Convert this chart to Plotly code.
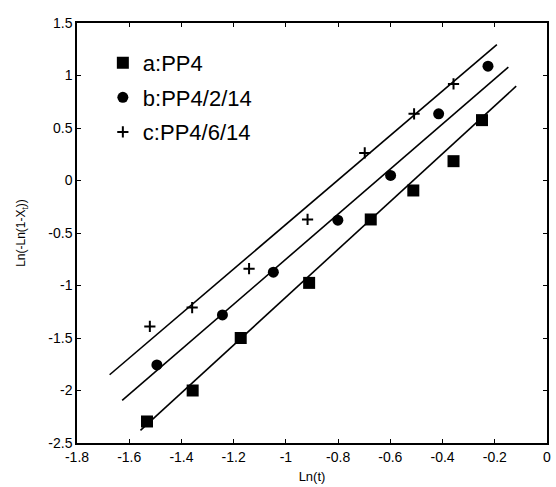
import plotly.graph_objects as go

# Data
a_x = [-1.532, -1.357, -1.173, -0.911, -0.675, -0.512, -0.358, -0.249]
a_y = [-2.295, -2.00, -1.50, -0.975, -0.371, -0.095, 0.184, 0.575]
b_x = [-1.494, -1.243, -1.048, -0.801, -0.599, -0.415, -0.226]
b_y = [-1.756, -1.28, -0.873, -0.378, 0.048, 0.635, 1.089]
c_x = [-1.521, -1.359, -1.141, -0.917, -0.698, -0.509, -0.358]
c_y = [-1.39, -1.21, -0.84, -0.371, 0.263, 0.635, 0.92]

# fitted line endpoints
a_fit_x = [-1.557, -0.118]
a_fit_y = [-2.38, 0.898]
b_fit_x = [-1.627, -0.148]
b_fit_y = [-2.095, 1.079]
c_fit_x = [-1.675, -0.192]
c_fit_y = [-1.85, 1.295]

names = ["a:PP4", "b:PP4/2/14", "c:PP4/6/14"]

x_ticks = [-1.8, -1.6, -1.4, -1.2, -1.0, -0.8, -0.6, -0.4, -0.2, 0]
x_ticktext = ["-1.8", "-1.6", "-1.4", "-1.2", "-1", "-0.8", "-0.6", "-0.4", "-0.2", "0"]
y_ticks = [1.5, 1.0, 0.5, 0, -0.5, -1.0, -1.5, -2.0, -2.5]
y_ticktext = ["1.5", "1", "0.5", "0", "-0.5", "-1", "-1.5", "-2", "-2.5"]

fig = go.Figure()

for fx, fy in [(a_fit_x, a_fit_y), (b_fit_x, b_fit_y), (c_fit_x, c_fit_y)]:
    fig.add_trace(go.Scatter(x=fx, y=fy, mode="lines", line=dict(color="black", width=1.6),
                             showlegend=False, hoverinfo="skip"))

fig.add_trace(go.Scatter(x=a_x, y=a_y, mode="markers", name=names[0], legendgroup="a",
                         marker=dict(symbol="square", size=12, color="black")))
fig.add_trace(go.Scatter(x=b_x, y=b_y, mode="markers", name=names[1], legendgroup="b",
                         marker=dict(symbol="circle", size=11, color="black")))
fig.add_trace(go.Scatter(x=c_x, y=c_y, mode="markers", name=names[2], legendgroup="c",
                         marker=dict(symbol="cross-thin", size=8, color="black",
                                     line=dict(color="black", width=2))))

axis_common = dict(showline=True, linecolor="black", linewidth=1.5, mirror="ticks",
                   ticks="inside", ticklen=4, tickcolor="black", tickwidth=1,
                   showgrid=False, zeroline=False,
                   tickfont=dict(family="Liberation Sans, Arial", size=14, color="black"))

fig.update_layout(
    width=556, height=487,
    margin=dict(l=77, r=5, t=23, b=44),
    paper_bgcolor="white", plot_bgcolor="white",
    font=dict(family="Liberation Sans, Arial", color="black"),
    xaxis=dict(range=[-1.8, 0], tickvals=x_ticks, ticktext=x_ticktext,
               title=dict(text="Ln(t)", font=dict(size=13), standoff=8), **axis_common),
    yaxis=dict(range=[-2.5, 1.5], tickvals=y_ticks, ticktext=y_ticktext,
               title=dict(text="Ln(-Ln(1-X<sub>t</sub>))", font=dict(size=12), standoff=20),
               **axis_common),
    legend=dict(x=0.055, y=0.955, xanchor="left", yanchor="top",
                font=dict(size=22, color="black"), bgcolor="rgba(0,0,0,0)",
                tracegroupgap=3, traceorder="grouped", itemwidth=30),
)

fig.write_html("out.html")
